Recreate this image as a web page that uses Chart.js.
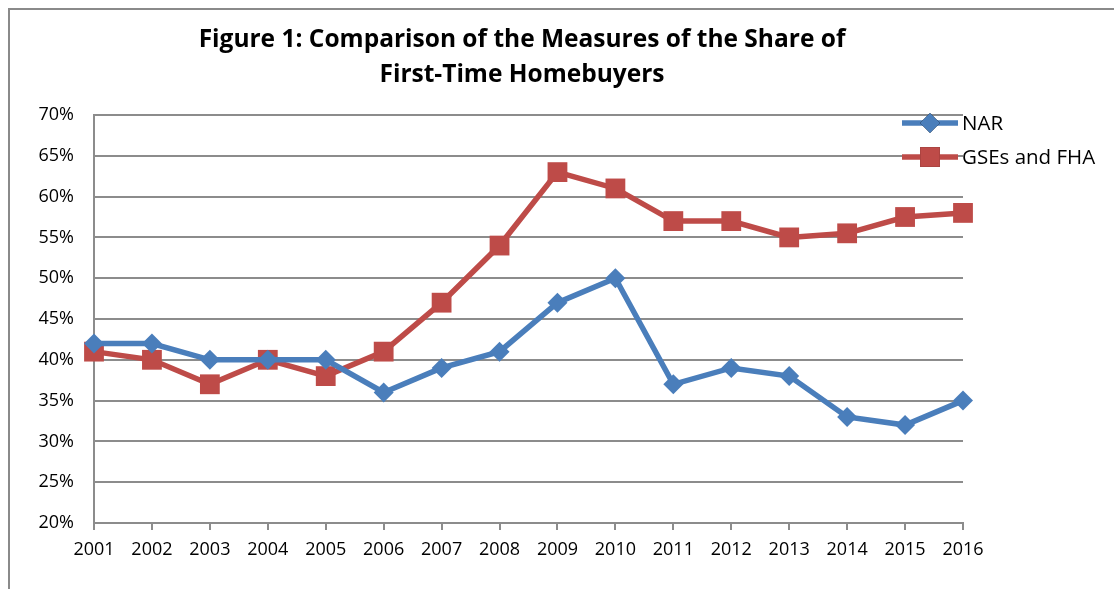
<!DOCTYPE html>
<html>
<head>
<meta charset="utf-8">
<script src="https://cdn.jsdelivr.net/npm/chart.js@4/dist/chart.umd.min.js"></script>
<style>
  html, body { margin: 0; padding: 0; background: #fff; overflow: hidden; }
  #frame { position: absolute; left: 8px; top: 8px; width: 1200px; height: 700px;
           border-left: 2px solid #8a8a8a; border-top: 2px solid #8a8a8a; }
  #wrap { position: absolute; left: 0; top: 0; width: 1114px; height: 589px; }
</style>
</head>
<body>
<div id="frame"></div>
<div id="wrap"><canvas id="chart"></canvas></div>
<script>
const years = ["2001", "2002", "2003", "2004", "2005", "2006", "2007", "2008",
               "2009", "2010", "2011", "2012", "2013", "2014", "2015", "2016"];
const narShare = [42, 42, 40, 40, 40, 36, 39, 41, 47, 50, 37, 39, 38, 33, 32, 35];
const gseFhaShare = [41, 40, 37, 40, 38, 41, 47, 54, 63, 61, 57, 57, 55, 55.5, 57.5, 58];
const titleLines = ["Figure 1: Comparison of the Measures of the Share of", "First-Time Homebuyers"];
const yMin = 20, yMax = 70, yStep = 5;

const blue = "#4a7ebb";
const red = "#be4b48";
const gridColor = "#8c8c8c";
const fontFamily = "'Open Sans', 'Noto Sans', sans-serif";

// title + legend drawn by hand so they sit where Excel put them
const decorations = {
    id: "decorations",
    afterDraw(chart) {
        const c = chart.ctx;
        const area = chart.chartArea;
        c.save();
        c.fillStyle = "#000";
        c.textAlign = "center";
        c.textBaseline = "middle";
        c.font = "bold 24.5px " + fontFamily;
        c.fillText(titleLines[0], 522, 40);
        c.fillText(titleLines[1], 522, 75);

        c.textAlign = "left";
        c.font = "20.5px " + fontFamily;
        chart.data.datasets.forEach((ds, i) => {
            const y = area.top + 8 + i * 34;
            const x0 = area.right - 61, x1 = area.right - 5;
            c.strokeStyle = ds.borderColor;
            c.lineWidth = ds.borderWidth;
            c.beginPath();
            c.moveTo(x0, y);
            c.lineTo(x1, y);
            c.stroke();
            Chart.helpers.drawPoint(c, {
                pointStyle: ds.pointStyle,
                radius: ds.pointRadius,
                borderWidth: 0
            }, (x0 + x1) / 2, y);
            c.fillStyle = ds.pointBackgroundColor;
            c.fill();
            c.fillStyle = "#000";
            c.fillText(ds.label, area.right - 1, y + 1);
        });
        c.restore();
    }
};

new Chart(document.getElementById("chart"), {
    type: "line",
    data: {
        labels: years,
        datasets: [{
            label: "NAR",
            data: narShare,
            borderColor: blue,
            backgroundColor: blue,
            pointBackgroundColor: blue,
            pointBorderColor: blue,
            borderWidth: 5.5,
            pointStyle: "rectRot",
            pointRadius: 10,
            pointBorderWidth: 0,
            tension: 0
        }, {
            label: "GSEs and FHA",
            data: gseFhaShare,
            borderColor: red,
            backgroundColor: red,
            pointBackgroundColor: red,
            pointBorderColor: red,
            borderWidth: 5.5,
            pointStyle: "rect",
            pointRadius: 14,
            pointBorderWidth: 0,
            tension: 0
        }]
    },
    plugins: [decorations],
    options: {
        responsive: true,
        maintainAspectRatio: false,
        animation: false,
        layout: { padding: { left: 0, top: 115, right: 151, bottom: 0 } },
        plugins: {
            legend: { display: false },
            title: { display: false },
            tooltip: { enabled: false }
        },
        scales: {
            x: {
                offset: false,
                grid: {
                    drawOnChartArea: false,
                    drawTicks: true,
                    tickLength: 7,
                    lineWidth: 2,
                    color: gridColor
                },
                border: { color: gridColor, width: 2 },
                ticks: {
                    color: "#000",
                    font: { family: fontFamily, size: 18 },
                    maxRotation: 0,
                    autoSkip: false,
                    padding: 9
                },
                afterFit(scale) { scale.height = 66; }
            },
            y: {
                min: yMin,
                max: yMax,
                grid: { color: gridColor, lineWidth: 2, drawTicks: false },
                border: { color: gridColor, width: 2 },
                ticks: {
                    stepSize: yStep,
                    color: "#000",
                    font: { family: fontFamily, size: 18 },
                    padding: 20,
                    callback: v => v + "%"
                },
                afterFit(scale) { scale.width = 94; }
            }
        }
    }
});
</script>
</body>
</html>
